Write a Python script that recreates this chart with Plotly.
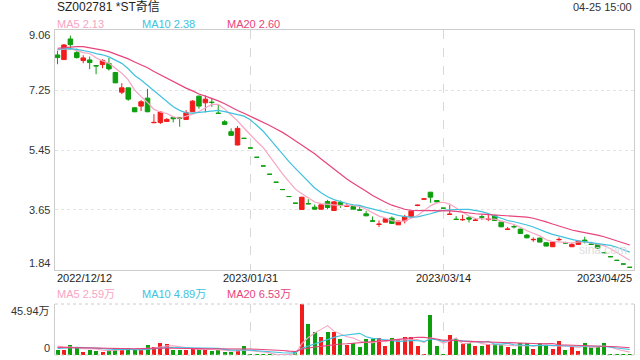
import plotly.graph_objects as go
import pandas as pd

# ---------------- data ----------------
opens = [8.31, 8.17, 8.79, 8.38, 8.14, 8.16, 7.99, 8.02, 8.05, 7.78,
         7.19, 7.32, 6.72, 6.77, 7.01, 6.27, 6.28, 6.31, 6.43, 6.43,
         6.37, 6.60, 7.07, 6.87, 6.89, 6.56, 6.30, 6.00, 5.60, 5.80,
         5.51, 5.23, 4.97, 4.72, 4.48, 4.26, 4.05, 3.85, 3.66, 3.84,
         3.73, 3.67, 3.90, 3.63, 3.88, 3.76, 3.75, 3.65, 3.53, 3.32,
         3.21, 3.28, 3.40, 3.20, 3.32, 3.44, 3.78, 3.97, 4.18, 3.93,
         3.70, 3.51, 3.37, 3.35, 3.41, 3.33, 3.44, 3.36, 3.47, 3.28,
         3.06, 3.15, 3.07, 2.89, 2.75, 2.80, 2.66, 2.54, 2.75, 2.66,
         2.54, 2.61, 2.74, 2.62, 2.61, 2.36, 2.24, 2.13, 2.02, 1.92]
highs = [8.44, 8.64, 8.89, 8.50, 8.30, 8.26, 7.99, 8.18, 8.22, 7.80,
         7.46, 7.33, 6.74, 6.95, 7.29, 6.53, 6.61, 6.41, 6.43, 6.44,
         6.65, 6.95, 7.09, 7.09, 7.02, 6.83, 6.35, 6.10, 6.17, 5.80,
         5.51, 5.23, 4.97, 4.72, 4.48, 4.26, 4.05, 3.85, 4.04, 3.97,
         3.81, 3.81, 3.95, 3.91, 3.93, 3.86, 3.78, 3.77, 3.62, 3.45,
         3.33, 3.40, 3.45, 3.32, 3.50, 3.62, 3.81, 3.98, 4.19, 3.94,
         3.70, 3.80, 3.46, 3.50, 3.46, 3.39, 3.50, 3.50, 3.50, 3.29,
         3.13, 3.19, 3.08, 2.92, 2.82, 2.81, 2.68, 2.69, 2.82, 2.69,
         2.66, 2.72, 2.84, 2.69, 2.62, 2.36, 2.24, 2.13, 2.02, 1.92]
lows = [8.03, 8.17, 8.46, 8.20, 8.06, 7.88, 7.73, 7.91, 7.84, 7.46,
        7.13, 6.93, 6.59, 6.62, 6.59, 6.27, 6.23, 6.30, 6.28, 6.15,
        6.35, 6.60, 6.69, 6.58, 6.75, 6.55, 6.21, 5.88, 5.59, 5.80,
        5.51, 5.23, 4.97, 4.72, 4.48, 4.26, 4.05, 3.85, 3.66, 3.82,
        3.66, 3.65, 3.67, 3.62, 3.71, 3.75, 3.66, 3.63, 3.46, 3.30,
        3.13, 3.27, 3.23, 3.19, 3.24, 3.43, 3.76, 3.97, 3.86, 3.87,
        3.70, 3.51, 3.35, 3.32, 3.27, 3.33, 3.35, 3.31, 3.32, 3.13,
        3.04, 3.09, 2.93, 2.79, 2.69, 2.67, 2.55, 2.53, 2.72, 2.64,
        2.53, 2.60, 2.64, 2.60, 2.48, 2.36, 2.24, 2.13, 2.02, 1.92]
closes = [8.23, 8.61, 8.62, 8.23, 8.22, 8.08, 7.98, 8.14, 7.89, 7.47,
          7.32, 6.98, 6.60, 6.90, 6.60, 6.28, 6.59, 6.37, 6.39, 6.40,
          6.57, 6.92, 6.77, 6.98, 6.88, 6.55, 6.22, 5.89, 6.10, 5.80,
          5.51, 5.23, 4.97, 4.72, 4.48, 4.26, 4.05, 3.85, 4.03, 3.83,
          3.67, 3.80, 3.72, 3.89, 3.80, 3.77, 3.67, 3.64, 3.47, 3.31,
          3.22, 3.38, 3.24, 3.31, 3.44, 3.61, 3.79, 3.98, 4.03, 3.89,
          3.70, 3.52, 3.36, 3.36, 3.37, 3.34, 3.43, 3.37, 3.33, 3.14,
          3.07, 3.14, 2.94, 2.81, 2.76, 2.68, 2.56, 2.68, 2.76, 2.65,
          2.61, 2.71, 2.69, 2.61, 2.49, 2.36, 2.24, 2.13, 2.02, 1.92]
# volume in 万 (10k shares)
volumes = [4.5, 4.5, 9.0, 6.9, 3.0, 4.5, 3.9, 3.0, 4.5, 6.0,
           6.0, 6.0, 4.5, 4.5, 9.0, 6.9, 10.8, 9.9, 4.5, 4.5,
           4.5, 6.0, 6.0, 5.1, 3.6, 4.5, 2.4, 3.0, 4.5, 8.1,
           0.4, 0.4, 0.4, 0.4, 0.4, 0.4, 0.4, 4.0, 45.94, 28.0,
           21.0, 16.5, 21.0, 21.0, 14.7, 9.0, 10.5, 7.5, 14.4, 14.4,
           15.0, 8.1, 15.0, 14.4, 16.0, 16.0, 8.1, 0.9, 36.0, 8.1,
           0.6, 18.0, 14.0, 9.9, 11.0, 8.1, 8.1, 9.9, 9.9, 8.7,
           7.5, 5.7, 10.5, 10.5, 5.7, 10.5, 8.7, 5.7, 12.3, 4.5,
           7.5, 3.9, 11.0, 6.9, 6.9, 11.2, 0.4, 0.4, 0.4, 0.4]
# closes / volumes of the days before the window (seed the moving averages)
pre_closes = [8.15, 8.18, 8.16, 8.19, 8.72, 8.80, 8.85, 8.78, 8.82, 8.75,
              8.50, 8.52, 8.48, 8.50, 8.50, 8.55, 8.50, 8.52, 8.51]
pre_volumes = [7.5, 8.0, 7.8, 8.2, 7.6, 7.9, 7.7, 8.1, 7.6, 7.6,
               3.9, 4.0, 3.8, 3.9, 3.9, 9.0, 9.2, 8.8, 9.0]

x_tick_pos = [0, 30, 60, 89]
x_tick_text = ["2022/12/12", "2023/01/31", "2023/03/14", "2023/04/25"]
price_ticks = [9.06, 7.25, 5.45, 3.65, 1.84]
price_tick_text = ["9.06", "7.25", "5.45", "3.65", "1.84"]
vol_ticks = [45.94, 0]
vol_tick_text = ["45.94万", "0"]
title_text = "SZ002781 *ST奇信"
time_text = "04-25 15:00"
ma_names = ["MA5 2.13", "MA10 2.38", "MA20 2.60"]
vol_ma_names = ["MA5 2.59万", "MA10 4.89万", "MA20 6.53万"]
ma_windows = [5, 10, 20]

# ---------------- style ----------------
RED = "#f21c1c"
GREEN = "#0e9e0e"
MA_COLORS = ["#f7a4c3", "#40c2de", "#e8437d"]
FONT = "Arial, Liberation Sans, Noto Sans CJK SC, sans-serif"
W, H = 640, 360
L, R = 55, 634
P_TOP, P_BOT = 30, 270
V_TOP, V_BOT = 304, 355

n = len(closes)
xs = list(range(n))


def px(v):
    return v / W


def py(v):
    return 1 - v / H


# direction (plotly rule: equal open/close -> compare to previous close)
bar_colors = []
prev = None
up = True
for o, c in zip(opens, closes):
    if c != o:
        up = c > o
    elif prev is not None and c != prev:
        up = c > prev
    bar_colors.append(RED if up else GREEN)
    prev = c

c_all = pd.Series(pre_closes + closes)
v_all = pd.Series(pre_volumes + volumes)
k = len(pre_closes)

fig = go.Figure()
fig.add_trace(go.Candlestick(
    x=xs, open=opens, high=highs, low=lows, close=closes,
    increasing=dict(line=dict(color=RED, width=1), fillcolor=RED),
    decreasing=dict(line=dict(color=GREEN, width=1), fillcolor=GREEN),
    whiskerwidth=0, xaxis="x", yaxis="y", hoverinfo="skip", showlegend=False))
for w, col in zip(ma_windows, MA_COLORS):
    fig.add_trace(go.Scatter(
        x=xs, y=c_all.rolling(w).mean().iloc[k:].tolist(), mode="lines",
        line=dict(color=col, width=1.2), xaxis="x", yaxis="y",
        hoverinfo="skip", showlegend=False))

fig.add_trace(go.Bar(x=xs, y=volumes, marker=dict(color=bar_colors, line=dict(width=0)),
                     width=0.62, xaxis="x2", yaxis="y2", hoverinfo="skip", showlegend=False))
for w, col in zip(ma_windows, MA_COLORS):
    fig.add_trace(go.Scatter(
        x=xs, y=v_all.rolling(w).mean().iloc[k:].tolist(), mode="lines",
        line=dict(color=col, width=1.1), xaxis="x2", yaxis="y2",
        hoverinfo="skip", showlegend=False))

xr = [-0.39, 89.66]
axis_common = dict(showline=True, mirror=True, linecolor="#cccccc", linewidth=1,
                   zeroline=False, fixedrange=True)
fig.update_layout(
    width=W, height=H, margin=dict(l=0, r=0, t=0, b=0),
    paper_bgcolor="white", plot_bgcolor="white",
    boxgap=0.3, boxgroupgap=0,
    bargap=0,
    font=dict(family=FONT, color="#333333", size=11),
    xaxis=dict(domain=[px(L), px(R)], range=xr, anchor="y",
               tickvals=x_tick_pos[1:3], showticklabels=False, ticks="",
               showgrid=True, gridcolor="#d8d8d8", griddash="dash", gridwidth=1,
               rangeslider=dict(visible=False), **axis_common),
    yaxis=dict(domain=[py(P_BOT), py(P_TOP)], range=[price_ticks[-1], price_ticks[0]],
               anchor="x", tickvals=price_ticks[1:4], showticklabels=False, ticks="",
               showgrid=True, gridcolor="#e3e3e3", griddash="dot", gridwidth=1.3,
               **axis_common),
    xaxis2=dict(domain=[px(L), px(R)], range=xr, anchor="y2", matches="x",
                tickvals=x_tick_pos[1:3], showticklabels=False, ticks="",
                showgrid=True, gridcolor="#d8d8d8", griddash="dash",
                showline=False, zeroline=False, fixedrange=True),
    yaxis2=dict(domain=[py(V_BOT), py(V_TOP)], range=[0, vol_ticks[0]], anchor="x2",
                showticklabels=False, ticks="", showgrid=False,
                showline=True, mirror=True, linecolor="#cccccc", zeroline=False,
                fixedrange=True),
)

# dotted top / bottom edges of the volume panel
for yy in (V_TOP, V_BOT):
    fig.add_shape(type="line", xref="paper", yref="paper", x0=px(L), x1=px(R),
                  y0=py(yy), y1=py(yy), line=dict(color="#cccccc", width=1, dash="dot"))

ann = []
# title / time
ann.append(dict(text=title_text, x=px(L), y=py(7), xanchor="left", yanchor="middle",
                font=dict(size=12, color="#222222")))
ann.append(dict(text=time_text, x=px(R), y=py(7), xanchor="right", yanchor="middle",
                font=dict(size=11, color="#333333")))
# MA legends
for i, (t, col) in enumerate(zip(ma_names, MA_COLORS)):
    ann.append(dict(text=t, x=px(L + 85 * i), y=py(24), xanchor="left", yanchor="middle",
                    font=dict(size=11, color=col)))
for i, (t, col) in enumerate(zip(vol_ma_names, MA_COLORS)):
    ann.append(dict(text=t, x=px(L + 85 * i), y=py(294), xanchor="left", yanchor="middle",
                    font=dict(size=11, color=col)))
for a in ann:
    a.update(xref="paper", yref="paper", showarrow=False)

# price tick labels
shifts = [-5, 0, 0, 0, 7]
for v, t, s in zip(price_ticks, price_tick_text, shifts):
    ann.append(dict(text=t, xref="paper", yref="y", x=px(L - 3), y=v, xanchor="right",
                    yanchor="middle", yshift=s, showarrow=False,
                    font=dict(size=11, color="#333333")))
# volume tick labels
for v, t, s in zip(vol_ticks, vol_tick_text, [-7, 7]):
    ann.append(dict(text=t, xref="paper", yref="y2", x=px(L - 3), y=v, xanchor="right",
                    yanchor="middle", yshift=s, showarrow=False,
                    font=dict(size=11, color="#333333")))
# date labels
anchors = ["left", "center", "center", "right"]
for p, t, an in zip(x_tick_pos, x_tick_text, anchors):
    xx = p if an == "center" else (xr[0] if an == "left" else xr[1])
    ann.append(dict(text=t, xref="x", yref="paper", x=xx, y=py(278), xanchor=an,
                    yanchor="middle", showarrow=False,
                    font=dict(size=11, color="#222222")))
# watermark
ann.append(dict(text="sina.com", xref="paper", yref="paper", x=px(603), y=py(250),
                xanchor="center", yanchor="middle", showarrow=False,
                font=dict(size=12, color="#dddddd")))
fig.update_layout(annotations=ann)

fig.write_html("out.html", config={"displayModeBar": False},
               post_script="document.body.style.margin='0';")
